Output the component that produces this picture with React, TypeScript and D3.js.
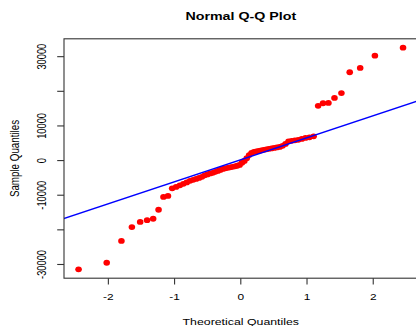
import React from "react";
import * as d3 from "d3";

// Sorted sample values
const sampleValues = [
  -31400, -29500, -23200, -19200, -17700, -17200, -16800, -14200, -10500, -10200,
  -8000, -7600, -7150, -6700, -6300, -5850, -5550, -5300, -5000, -4700,
  -4250, -4000, -3700, -3550, -3250, -3000, -2700, -2400, -2250, -2100,
  -1950, -1800, -1650, -1500, -1250, -600, -100, 700, 1600, 2200,
  2500, 2650, 2800, 2950, 3100, 3250, 3400, 3500, 3650, 3800,
  3950, 4250, 4800, 5550, 5700, 5850, 6000, 6250, 6550, 6700,
  7000, 15800, 16550, 16650, 18100, 19500, 25500, 26750, 30300, 32600,
];

// Reference line: intercept and slope
const refLine = [245, 6349];

const xTicks = [-2, -1, 0, 1, 2];
const xTickLabels = ["-2", "-1", "0", "1", "2"];
const yTicks = [-30000, -20000, -10000, 0, 10000, 20000, 30000];
const yTickLabels = ["-30000", "", "-10000", "0", "10000", "", "30000"];

const title = "Normal Q-Q Plot";
const xTitle = "Theoretical Quantiles";
const yTitle = "Sample Quantiles";

// Inverse standard normal CDF (Acklam)
function qnorm(p: number): number {
  const a = [-3.969683028665376e1, 2.209460984245205e2, -2.759285104469687e2, 1.38357751867269e2, -3.066479806614716e1, 2.506628277459239];
  const b = [-5.447609879822406e1, 1.615858368580409e2, -1.556989798598866e2, 6.680131188771972e1, -1.328068155288572e1];
  const c = [-7.784894002430293e-3, -3.223964580411365e-1, -2.400758277161838, -2.549732539343734, 4.374664141464968, 2.938163982698783];
  const d = [7.784695709041462e-3, 3.224671290700398e-1, 2.445134137142996, 3.754408661907416];
  const pl = 0.02425;
  let q: number, r: number;
  if (p < pl) {
    q = Math.sqrt(-2 * Math.log(p));
    return (((((c[0] * q + c[1]) * q + c[2]) * q + c[3]) * q + c[4]) * q + c[5]) / ((((d[0] * q + d[1]) * q + d[2]) * q + d[3]) * q + 1);
  } else if (p <= 1 - pl) {
    q = p - 0.5;
    r = q * q;
    return ((((((a[0] * r + a[1]) * r + a[2]) * r + a[3]) * r + a[4]) * r + a[5]) * q) / (((((b[0] * r + b[1]) * r + b[2]) * r + b[3]) * r + b[4]) * r + 1);
  } else {
    q = Math.sqrt(-2 * Math.log(1 - p));
    return -(((((c[0] * q + c[1]) * q + c[2]) * q + c[3]) * q + c[4]) * q + c[5]) / ((((d[0] * q + d[1]) * q + d[2]) * q + d[3]) * q + 1);
  }
}

export default function App() {
  const W = 416, H = 326;
  const n = sampleValues.length;
  const aa = n <= 10 ? 3 / 8 : 0.5;
  const theo = sampleValues.map((_, i) => qnorm((i + 1 - aa) / (n + 1 - 2 * aa)));

  const x = d3.scaleLinear().domain([-2.67, 2.67]).range([64, 417.6]);
  const y = d3.scaleLinear().domain([-33960, 35160]).range([278.2, 38.8]);
  const [x0, x1] = x.range();
  const [yb, yt] = y.range();

  const font = "'Liberation Sans', Arial, Helvetica, sans-serif";
  const sx = 1.28;
  const axisColor = "#333";

  const lineGen = d3.line<number>().x((t) => x(t)).y((t) => y(refLine[0] + refLine[1] * t));
  const lineD = lineGen([-3, 3]) || "";

  return (
    <svg width={W} height={H} style={{ position: "absolute", left: 0, top: 0, background: "#fff" }}>
      <defs>
        <clipPath id="plotclip">
          <rect x={x0} y={yt} width={x1 - x0} height={yb - yt} />
        </clipPath>
      </defs>
      <rect x={0} y={0} width={W} height={H} fill="#fff" />
      {/* title */}
      <text
        transform={`translate(${(x0 + x1) / 2},20.2) scale(1.24,1)`}
        textAnchor="middle"
        fontFamily={font}
        fontWeight="bold"
        fontSize={11.5}
        fill="#000"
      >
        {title}
      </text>
      {/* points */}
      <g clipPath="url(#plotclip)">
        {sampleValues.map((v, i) => (
          <ellipse key={i} cx={x(theo[i])} cy={y(v)} rx={3.3} ry={2.9} fill="#ff0000" />
        ))}
        <path d={lineD} stroke="#0000ff" strokeWidth={1.3} fill="none" />
      </g>
      {/* box */}
      <rect x={x0} y={yt} width={x1 - x0} height={yb - yt} fill="none" stroke={axisColor} strokeWidth={1.1} />
      {/* x axis */}
      <g>
        {xTicks.map((t, i) => (
          <g key={i}>
            <line x1={x(t)} x2={x(t)} y1={yb} y2={yb + 6.3} stroke={axisColor} strokeWidth={1.1} />
            <text
              transform={`translate(${x(t)},300.4) scale(${sx},1)`}
              textAnchor="middle"
              fontFamily={font}
              fontSize={9.3}
              fill="#000"
            >
              {xTickLabels[i]}
            </text>
          </g>
        ))}
      </g>
      {/* y axis */}
      <g>
        {yTicks.map((t, i) => (
          <g key={i}>
            <line x1={x0 - 6.8} x2={x0} y1={y(t)} y2={y(t)} stroke={axisColor} strokeWidth={1.1} />
            {yTickLabels[i] !== "" && (
              <text
                transform={`translate(42,${y(t)}) scale(${sx},1) rotate(-90)`}
                textAnchor="middle"
                dy="0.35em"
                fontFamily={font}
                fontSize={9.3}
                fill="#000"
              >
                {yTickLabels[i]}
              </text>
            )}
          </g>
        ))}
      </g>
      {/* axis titles */}
      <text
        transform={`translate(${(x0 + x1) / 2},325) scale(1.26,1)`}
        textAnchor="middle"
        fontFamily={font}
        fontSize={9.8}
        fill="#000"
      >
        {xTitle}
      </text>
      <text
        transform={`translate(15,${(yt + yb) / 2}) scale(1.26,1) rotate(-90)`}
        textAnchor="middle"
        dy="0.35em"
        fontFamily={font}
        fontSize={9.8}
        fill="#000"
      >
        {yTitle}
      </text>
    </svg>
  );
}
